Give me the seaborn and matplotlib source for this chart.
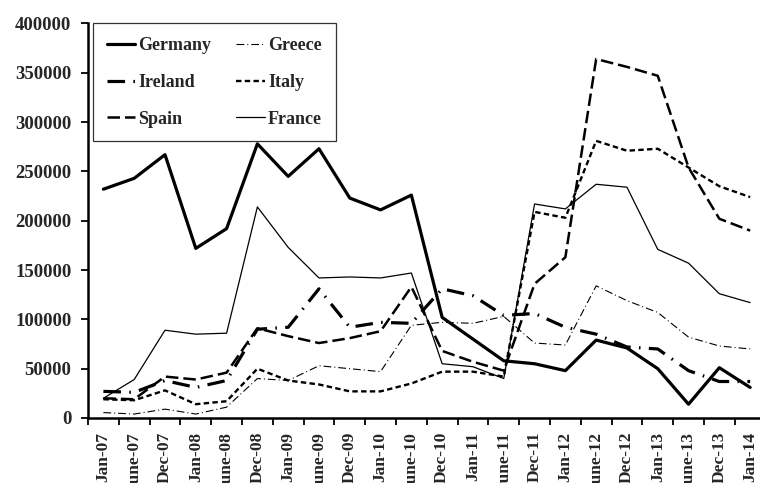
import matplotlib
matplotlib.use("Agg")
import matplotlib.pyplot as plt
import seaborn as sns
import numpy as np
import pandas as pd
from matplotlib.ticker import FixedLocator

labels = ["Jan-07", "June-07", "Dec-07", "Jan-08", "June-08", "Dec-08", "Jan-09",
          "June-09", "Dec-09", "Jan-10", "June-10", "Dec-10", "Jan-11", "June-11",
          "Dec-11", "Jan-12", "June-12", "Dec-12", "Jan-13", "June-13", "Dec-13", "Jan-14"]

germany = [232000, 243000, 267000, 172000, 192000, 278000, 245000, 273000, 223000, 211000, 226000,
           102000, 80000, 58000, 55000, 48000, 79000, 71000, 50000, 14000, 51000, 31000]
greece = [5500, 4000, 9000, 4000, 11000, 40000, 38000, 53000, 50000, 47000, 94000,
          97000, 96000, 103000, 76000, 74000, 134000, 119000, 107000, 82000, 73000, 70000]
ireland = [27000, 26000, 38000, 31000, 38000, 90000, 92000, 131000, 92000, 97000, 96000,
           131000, 124000, 104000, 106000, 92000, 85000, 72000, 70000, 48000, 37000, 37000]
italy = [19000, 18000, 28000, 14000, 17000, 50000, 38000, 34000, 27000, 27000, 35000,
         47000, 47000, 42000, 209000, 203000, 281000, 271000, 273000, 254000, 235000, 224000]
spain = [20000, 19000, 42000, 39000, 46000, 91000, 83000, 76000, 81000, 88000, 133000,
         68000, 57000, 48000, 136000, 163000, 364000, 356000, 347000, 254000, 202000, 190000]
france = [20000, 39000, 89000, 85000, 86000, 214000, 173000, 142000, 143000, 142000, 147000,
          55000, 52000, 40000, 217000, 212000, 237000, 234000, 171000, 157000, 126000, 117000]

series = {"Germany": germany, "Greece": greece, "Ireland": ireland,
          "Italy": italy, "Spain": spain, "France": france}

styles = {
    "Germany": dict(lw=2.3, ls="-"),
    "Greece": dict(lw=0.8, ls=(0, (7, 2.7, 0.9, 2.7))),
    "Ireland": dict(lw=2.3, ls=(0, (5.5, 2.6, 0.5, 2.6))),
    "Italy": dict(lw=1.7, ls=(0, (2.3, 1.4))),
    "Spain": dict(lw=1.8, ls=(0, (5, 2))),
    "France": dict(lw=0.9, ls="-"),
}

sns.set_style("white")
plt.rcParams["font.family"] = ["Liberation Serif", "DejaVu Serif"]
plt.rcParams["font.weight"] = "bold"

fig = plt.figure(figsize=(7.6, 4.83), dpi=100)
ax = fig.add_axes([88 / 760, (483 - 418) / 483, 672 / 760, (418 - 23.5) / 483])

x = np.arange(len(labels))
handles = {}
for name, vals in series.items():
    st = styles[name]
    sns.lineplot(x=x, y=vals, ax=ax, color="black", linewidth=st["lw"],
                 linestyle=st["ls"], label=name, legend=False)
    handles[name] = ax.get_lines()[-1]

ax.set_xlim(-0.5, 21.32)
ax.set_ylim(0, 400000)
ax.set_yticks(np.arange(0, 400001, 50000))
ax.set_yticklabels([f"{v:d}" for v in range(0, 400001, 50000)], fontsize=13.5, fontweight="bold")
ax.set_xticks(x)
ax.set_xticklabels(labels, rotation=90, fontsize=12.5, fontweight="bold")
ax.xaxis.set_minor_locator(FixedLocator(np.arange(-0.5, 21.6, 1.0)))
ax.tick_params(axis="x", which="major", length=0, pad=10)
ax.tick_params(axis="x", which="minor", length=5, width=1.3, direction="out", color="black", bottom=True)
ax.tick_params(axis="y", which="major", length=5, width=1.3, direction="out", color="black", pad=7, left=True)

for s in ["top", "right"]:
    ax.spines[s].set_visible(False)
for s in ["left", "bottom"]:
    ax.spines[s].set_color("black")
    ax.spines[s].set_linewidth(1.8)
ax.grid(False)

order = ["Germany", "Ireland", "Spain", "Greece", "Italy", "France"]
leg = ax.legend([handles[n] for n in order], order, ncol=2, loc="upper left",
                bbox_to_anchor=(5 / 672, 1.0), borderaxespad=0,
                prop={"family": "Liberation Serif", "weight": "bold", "size": 13},
                handlelength=1.6, handletextpad=0.15, columnspacing=1.4,
                labelspacing=1.1, borderpad=0.75, fancybox=False, frameon=True)
leg.get_frame().set_edgecolor("black")
leg.get_frame().set_linewidth(0.9)

fig.savefig("out.png", dpi=100)
